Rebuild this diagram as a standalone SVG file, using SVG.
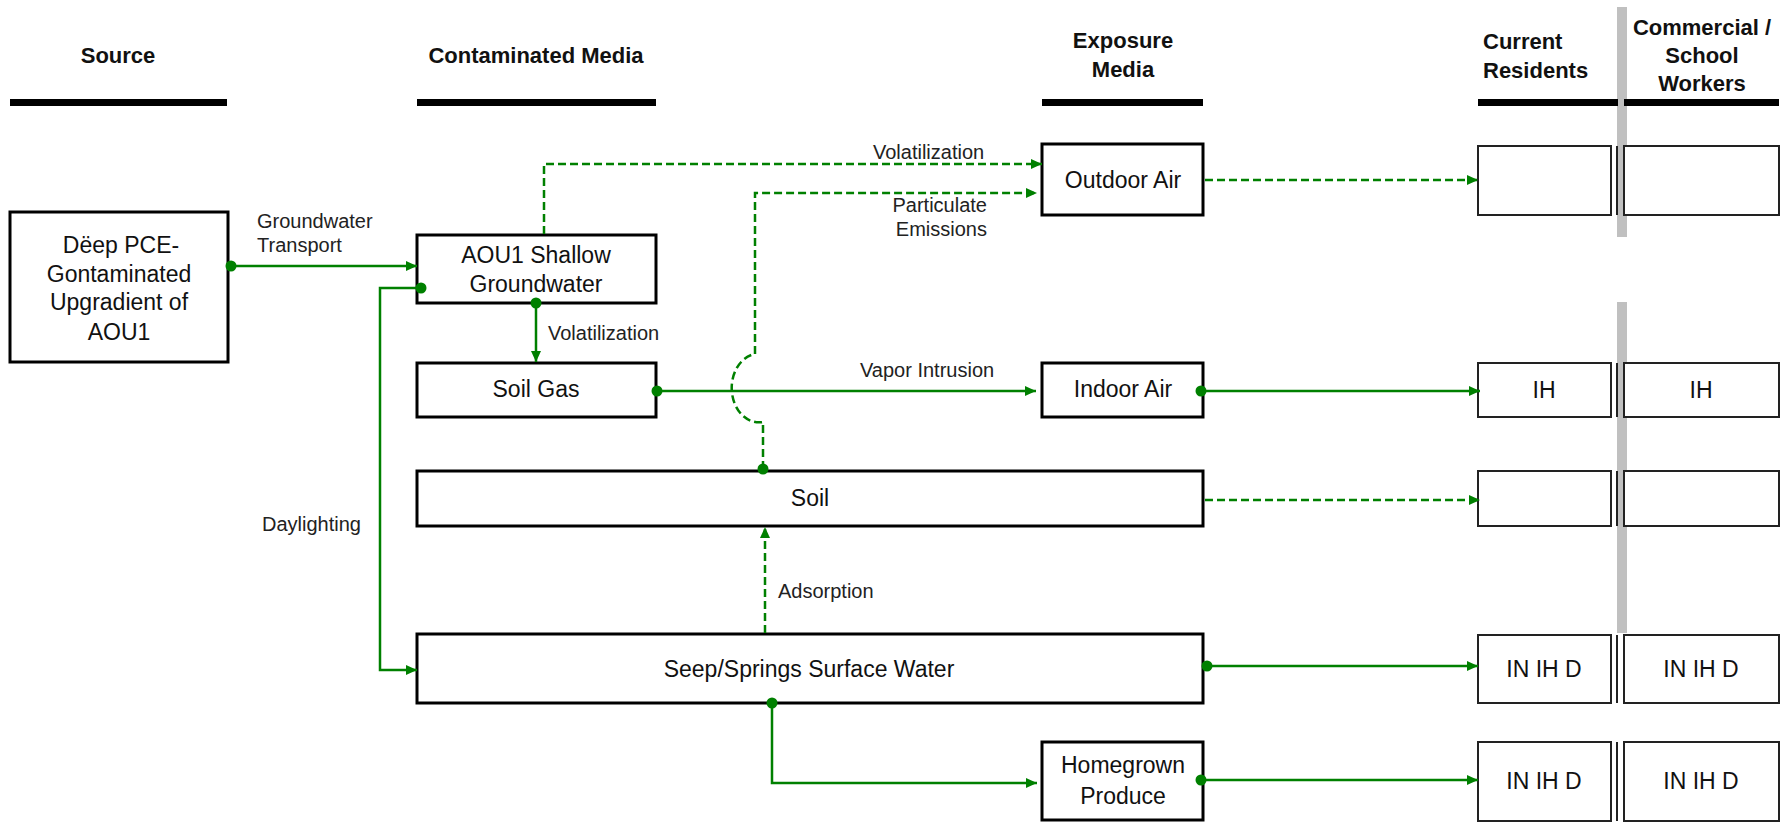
<svg xmlns="http://www.w3.org/2000/svg" width="1783" height="822" viewBox="0 0 1783 822">
<style>
.hdr{font-family:"Liberation Sans",Arial,sans-serif;font-weight:bold;font-size:22px;fill:#111}
.nt{font-family:"Liberation Sans",Arial,sans-serif;font-size:23px;fill:#111;text-anchor:middle}
.lb{font-family:"Liberation Sans",Arial,sans-serif;font-size:20px;fill:#222}
.box{fill:#fff;stroke:#000;stroke-width:3}
.rbox{fill:#fff;stroke:#222;stroke-width:2}
.bar{fill:#000}
.gray{fill:#c0c0c0}
.c{fill:none;stroke:#008000;stroke-width:2.5}
.d{stroke-dasharray:8 4}
</style>
<defs>
<marker id="arr" markerUnits="userSpaceOnUse" markerWidth="12" markerHeight="12" refX="11" refY="5" orient="auto">
<path d="M0,0 L11,5 L0,10 z" fill="#008000"/>
</marker>
<marker id="dot" markerUnits="userSpaceOnUse" markerWidth="14" markerHeight="14" refX="7" refY="7" orient="auto">
<circle cx="7" cy="7" r="5.5" fill="#008000"/>
</marker>
</defs>
<rect width="1783" height="822" fill="#fff"/>

<g id="headers">
<text class="hdr" x="118" y="63" text-anchor="middle">Source</text>
<text class="hdr" x="536" y="63" text-anchor="middle">Contaminated Media</text>
<text class="hdr" x="1123" y="48" text-anchor="middle">Exposure</text>
<text class="hdr" x="1123" y="77" text-anchor="middle">Media</text>
<text class="hdr" x="1483" y="49">Current</text>
<text class="hdr" x="1483" y="78">Residents</text>
<text class="hdr" x="1702" y="35" text-anchor="middle">Commercial /</text>
<text class="hdr" x="1702" y="63" text-anchor="middle">School</text>
<text class="hdr" x="1702" y="91" text-anchor="middle">Workers</text>
<rect class="gray" x="1617" y="7" width="10" height="230"/>
<rect class="gray" x="1617" y="302" width="10" height="331"/>
<rect class="bar" x="10" y="99" width="217" height="7"/>
<rect class="bar" x="417" y="99" width="239" height="7"/>
<rect class="bar" x="1042" y="99" width="161" height="7"/>
<rect class="bar" x="1478" y="99" width="140" height="7"/>
<rect class="bar" x="1624" y="99" width="155" height="7"/>
</g>

<g id="source">
<rect class="box" x="10" y="212" width="218" height="150"/>
<text class="nt" x="121" y="253">Dëep PCE-</text>
<text class="nt" x="119" y="282">Gontaminated</text>
<text class="nt" x="119" y="310">Upgradient of</text>
<text class="nt" x="119" y="340">AOU1</text>
</g>
<g id="aou1">
<rect class="box" x="417" y="235" width="239" height="68"/>
<text class="nt" x="536" y="263">AOU1 Shallow</text>
<text class="nt" x="536" y="292">Groundwater</text>
</g>
<g id="soilgas">
<rect class="box" x="417" y="363" width="239" height="54"/>
<text class="nt" x="536" y="397">Soil Gas</text>
</g>
<g id="soil">
<rect class="box" x="417" y="471" width="786" height="55"/>
<text class="nt" x="810" y="506">Soil</text>
</g>
<g id="seep">
<rect class="box" x="417" y="634" width="786" height="69"/>
<text class="nt" x="809" y="677">Seep/Springs Surface Water</text>
</g>
<g id="outdoor">
<rect class="box" x="1042" y="144" width="161" height="71"/>
<text class="nt" x="1123" y="188">Outdoor Air</text>
</g>
<g id="indoor">
<rect class="box" x="1042" y="363" width="161" height="54"/>
<text class="nt" x="1123" y="397">Indoor Air</text>
</g>
<g id="homegrown">
<rect class="box" x="1042" y="742" width="161" height="78"/>
<text class="nt" x="1123" y="773">Homegrown</text>
<text class="nt" x="1123" y="804">Produce</text>
</g>

<g id="receptor-row1">
<rect class="rbox" x="1478" y="146" width="133" height="69"/>
<line x1="1617" y1="146" x2="1617" y2="215" stroke="#222" stroke-width="2"/>
<rect class="rbox" x="1624" y="146" width="155" height="69"/>
</g>
<g id="receptor-row2">
<rect class="rbox" x="1478" y="363" width="133" height="54"/>
<line x1="1617" y1="363" x2="1617" y2="417" stroke="#222" stroke-width="2"/>
<rect class="rbox" x="1624" y="363" width="155" height="54"/>
<text class="nt" x="1544" y="398">IH</text>
<text class="nt" x="1701" y="398">IH</text>
</g>
<g id="receptor-row3">
<rect class="rbox" x="1478" y="471" width="133" height="55"/>
<line x1="1617" y1="471" x2="1617" y2="526" stroke="#222" stroke-width="2"/>
<rect class="rbox" x="1624" y="471" width="155" height="55"/>
</g>
<g id="receptor-row4">
<rect class="rbox" x="1478" y="635" width="133" height="68"/>
<line x1="1617" y1="635" x2="1617" y2="703" stroke="#222" stroke-width="2"/>
<rect class="rbox" x="1624" y="635" width="155" height="68"/>
<text class="nt" x="1544" y="677">IN IH D</text>
<text class="nt" x="1701" y="677">IN IH D</text>
</g>
<g id="receptor-row5">
<rect class="rbox" x="1478" y="742" width="133" height="79"/>
<line x1="1617" y1="742" x2="1617" y2="821" stroke="#222" stroke-width="2"/>
<rect class="rbox" x="1624" y="742" width="155" height="79"/>
<text class="nt" x="1544" y="789">IN IH D</text>
<text class="nt" x="1701" y="789">IN IH D</text>
</g>

<g id="connectors">
<path class="c" d="M231,266 H417" marker-start="url(#dot)" marker-end="url(#arr)"/>
<path class="c" d="M421,288 H380 V670 H417" marker-start="url(#dot)" marker-end="url(#arr)"/>
<path class="c" d="M536,303 V362" marker-start="url(#dot)" marker-end="url(#arr)"/>
<path class="c d" d="M544,234 V164 H1042" marker-end="url(#arr)"/>
<path class="c d" d="M763,469 V422 A27,34 0 0 1 755,354 V193 H1037" marker-start="url(#dot)" marker-end="url(#arr)"/>
<path class="c" d="M657,391 H1036" marker-start="url(#dot)" marker-end="url(#arr)"/>
<path class="c d" d="M765,633 V527" marker-end="url(#arr)"/>
<path class="c" d="M772,703 V783 H1037" marker-start="url(#dot)" marker-end="url(#arr)"/>
<path class="c d" d="M1205,180 H1478" marker-end="url(#arr)"/>
<path class="c" d="M1201,391 H1480" marker-start="url(#dot)" marker-end="url(#arr)"/>
<path class="c d" d="M1205,500 H1480" marker-end="url(#arr)"/>
<path class="c" d="M1207,666 H1478" marker-start="url(#dot)" marker-end="url(#arr)"/>
<path class="c" d="M1201,780 H1478" marker-start="url(#dot)" marker-end="url(#arr)"/>
<text class="lb" x="257" y="228">Groundwater</text>
<text class="lb" x="257" y="252">Transport</text>
<text class="lb" x="548" y="340">Volatilization</text>
<text class="lb" x="873" y="159">Volatilization</text>
<text class="lb" x="987" y="212" text-anchor="end">Particulate</text>
<text class="lb" x="987" y="236" text-anchor="end">Emissions</text>
<text class="lb" x="860" y="377">Vapor Intrusion</text>
<text class="lb" x="262" y="531">Daylighting</text>
<text class="lb" x="778" y="598">Adsorption</text>
</g>
</svg>
